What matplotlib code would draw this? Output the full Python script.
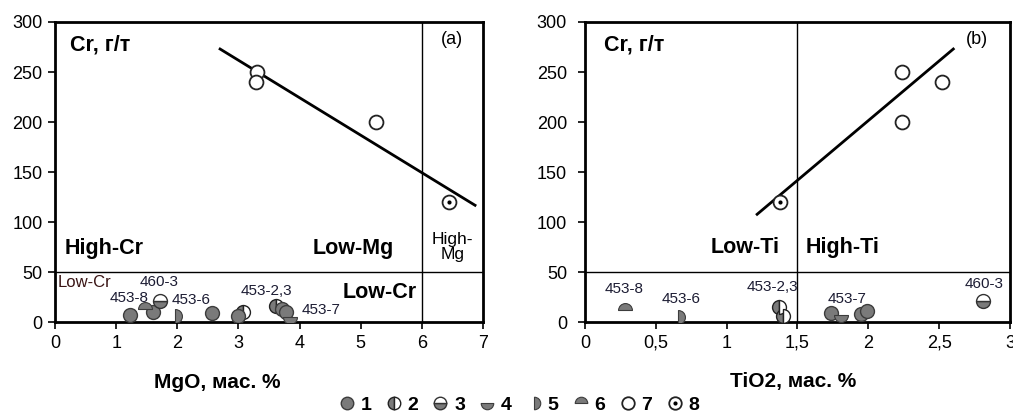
import matplotlib
matplotlib.use('Agg')
import matplotlib.pyplot as plt
from matplotlib.path import Path
from matplotlib.transforms import Affine2D
from matplotlib.lines import Line2D

plt.rcParams['font.family'] = ['Liberation Sans', 'DejaVu Sans']

# --- data, panel (a): MgO vs Cr ---
s1_a_x = [1.23, 1.60, 2.56, 3.00, 3.71, 3.78]
s1_a_y = [7, 10, 9, 6, 13, 10]
s2_a_x = [3.08, 3.62]
s2_a_y = [10, 16]
s3_a_x = [1.72]
s3_a_y = [21]
s4_a_x = [3.85]
s4_a_y = [5]
s5_a_x = [1.96]
s5_a_y = [6]
s6_a_x = [1.48]
s6_a_y = [13]
s7_a_x = [3.30, 3.28, 5.25]
s7_a_y = [250, 240, 200]
s8_a_x = [6.45]
s8_a_y = [120]
trend_a_x = [2.70, 6.87]
trend_a_y = [273, 117]

# --- data, panel (b): TiO2 vs Cr ---
s1_b_x = [1.74, 1.95, 1.99]
s1_b_y = [9, 8, 11]
s2_b_x = [1.37, 1.40]
s2_b_y = [15, 6]
s3_b_x = [2.81]
s3_b_y = [21]
s4_b_x = [1.81]
s4_b_y = [7]
s5_b_x = [0.66]
s5_b_y = [5]
s6_b_x = [0.28]
s6_b_y = [12]
s7_b_x = [2.235, 2.52, 2.24]
s7_b_y = [250, 240, 200]
s8_b_x = [1.38]
s8_b_y = [120]
trend_b_x = [1.215, 2.60]
trend_b_y = [108, 273]

ticks_a = [0, 1, 2, 3, 4, 5, 6, 7]
ticks_b = [0, 0.5, 1, 1.5, 2, 2.5, 3]
ticks_b_labels = ['0', '0,5', '1', '1,5', '2', '2,5', '3']
yticks = [0, 50, 100, 150, 200, 250, 300]
legend_labels = ['1', '2', '3', '4', '5', '6', '7', '8']

GREY = '#7a7a7a'
EDGE = '#3c3c3c'
MS = 10

right_half = Path.unit_circle_righthalf()
top_half = right_half.transformed(Affine2D().rotate_deg(90))
bottom_half = right_half.transformed(Affine2D().rotate_deg(-90))

sty = {
    1: dict(marker='o', mfc=GREY, mec=EDGE, mew=1),
    2: dict(marker='o', fillstyle='left', mfc=GREY, markerfacecoloralt='white', mec='#222222', mew=1),
    3: dict(marker='o', fillstyle='bottom', mfc=GREY, markerfacecoloralt='white', mec='#333333', mew=1),
    4: dict(marker=bottom_half, mfc=GREY, mec=EDGE, mew=0.8),
    5: dict(marker=right_half, mfc=GREY, mec=EDGE, mew=0.8),
    6: dict(marker=top_half, mfc=GREY, mec=EDGE, mew=0.8),
    7: dict(marker='o', mfc='white', mec='#222222', mew=1.3),
}
dot = dict(marker='o', mfc='black', mec='black', ms=3, mew=0)

fig = plt.figure(figsize=(10.13, 4.16), dpi=100)
ax1 = fig.add_axes([0.0543, 0.2248, 0.4225, 0.7224])
ax2 = fig.add_axes([0.5775, 0.2248, 0.4195, 0.7224])


def draw(ax, pts, tx, ty):
    ax.plot(tx, ty, color='black', lw=2, zorder=2)
    for k in [2, 1, 3, 4, 5, 6, 7]:
        x, y = pts[k]
        ax.plot(x, y, ls='none', ms=MS, zorder=3, **sty[k])
    x, y = pts[8]
    ax.plot(x, y, ls='none', ms=MS, zorder=3, **sty[7])
    ax.plot(x, y, ls='none', zorder=4, **dot)


pts_a = {1: (s1_a_x, s1_a_y), 2: (s2_a_x, s2_a_y), 3: (s3_a_x, s3_a_y),
         4: (s4_a_x, s4_a_y), 5: (s5_a_x, s5_a_y), 6: (s6_a_x, s6_a_y),
         7: (s7_a_x, s7_a_y), 8: (s8_a_x, s8_a_y)}
pts_b = {1: (s1_b_x, s1_b_y), 2: (s2_b_x, s2_b_y), 3: (s3_b_x, s3_b_y),
         4: (s4_b_x, s4_b_y), 5: (s5_b_x, s5_b_y), 6: (s6_b_x, s6_b_y),
         7: (s7_b_x, s7_b_y), 8: (s8_b_x, s8_b_y)}

draw(ax1, pts_a, trend_a_x, trend_a_y)
draw(ax2, pts_b, trend_b_x, trend_b_y)

for ax in (ax1, ax2):
    ax.set_ylim(0, 300)
    ax.set_yticks(yticks)
    ax.axhline(50, color='black', lw=1, zorder=1)
    for s in ax.spines.values():
        s.set_linewidth(2)
    ax.tick_params(direction='out', length=5, width=1.2, labelsize=13, pad=4)

ax1.set_xlim(0, 7)
ax1.set_xticks(ticks_a)
ax1.axvline(6, color='black', lw=1, zorder=1)
ax2.set_xlim(0, 3)
ax2.set_xticks(ticks_b)
ax2.set_xticklabels(ticks_b_labels)
ax2.axvline(1.5, color='black', lw=1, zorder=1)
ax2.tick_params(axis='y', pad=8)

ax1.set_xlabel('MgO, мас. %', fontsize=15, fontweight='bold')
ax1.xaxis.set_label_coords(0.379, -0.168)
ax2.set_xlabel('TiO2, мас. %', fontsize=15, fontweight='bold')
ax2.xaxis.set_label_coords(0.489, -0.165)

bold = dict(fontsize=15.5, fontweight='bold', va='center', ha='left')
lab = dict(fontsize=11, va='center', ha='left', color='#1c1c33')

# panel (a) texts
ax1.text(0.25, 277, 'Cr, г/т', **bold)
ax1.text(6.5, 282, '(a)', fontsize=13, ha='center', va='center')
ax1.text(0.15, 74, 'High-Cr', **bold)
ax1.text(4.22, 74, 'Low-Mg', **bold)
ax1.text(4.7, 30, 'Low-Cr', **bold)
ax1.text(6.5, 75, 'High-\nMg', fontsize=12.5, ha='center', va='center', linespacing=1.0)
ax1.text(0.05, 39.5, 'Low-Cr', fontsize=12, va='center', ha='left', color='#3a1515')
ax1.text(0.90, 24.5, '453-8', **lab)
ax1.text(1.39, 40.5, '460-3', **lab)
ax1.text(1.91, 22.5, '453-6', **lab)
ax1.text(3.04, 31.5, '453-2,3', **lab)
ax1.text(4.04, 12.5, '453-7', **lab)

# panel (b) texts
ax2.text(0.134, 277, 'Cr, г/т', **bold)
ax2.text(2.77, 282, '(b)', fontsize=13, ha='center', va='center')
ax2.text(0.89, 74.5, 'Low-Ti', **bold)
ax2.text(1.56, 74.5, 'High-Ti', **bold)
ax2.text(0.14, 33.5, '453-8', **lab)
ax2.text(0.54, 23.5, '453-6', **lab)
ax2.text(1.14, 35.5, '453-2,3', **lab)
ax2.text(1.71, 23.5, '453-7', **lab)
ax2.text(2.68, 38.5, '460-3', **lab)

# legend
handles = []
for k in range(1, 8):
    handles.append(Line2D([], [], ls='none', ms=9, **sty[k]))
h8 = (Line2D([], [], ls='none', ms=9, **sty[7]), Line2D([], [], ls='none', **dot))
handles.append(h8)
fig.legend(handles, legend_labels, loc='center', bbox_to_anchor=(0.512, 0.026),
           ncol=8, frameon=False, handlelength=0.9, handletextpad=0.25,
           columnspacing=0.7, prop=dict(size=14, weight='bold'), borderpad=0)

fig.savefig('out.png', dpi=100)
